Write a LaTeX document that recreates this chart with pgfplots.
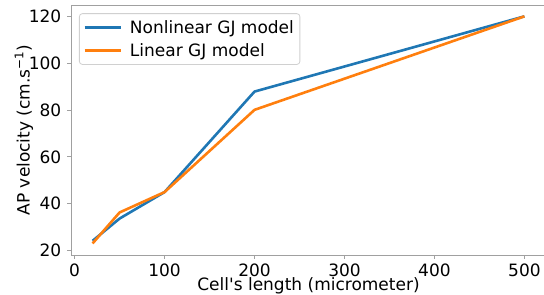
\documentclass[border=0pt]{standalone}
\usepackage{pgfplots}
\pgfplotsset{compat=1.18}
\usepackage{fontspec}
\setmainfont{DejaVu Sans}
\definecolor{tabblue}{HTML}{1F77B4}
\definecolor{taborange}{HTML}{FF7F0E}
\definecolor{spine}{HTML}{A0A0A0}
\definecolor{legedge}{HTML}{D0D0D0}
\begin{document}
\begin{tikzpicture}
\begin{axis}[
  scale only axis,
  width=475bp, height=250bp,
  xmin=-4, xmax=524, ymin=18.15, ymax=124.85,
  xtick={0,100,200,300,400,500},
  ytick={20,40,60,80,100,120},
  axis line style={spine, line width=0.9bp},
  tick style={spine, line width=0.9bp},
  tick align=outside,
  major tick length=3.5bp,
  xtick pos=bottom, ytick pos=left,
  /pgf/number format/assume math mode=true,
  tick label style={font=\fontsize{17bp}{20bp}\selectfont},
  xticklabel style={anchor=base, inner sep=0pt, yshift=-18bp},
  yticklabel style={anchor=east, inner sep=0pt, xshift=-6bp},
  label style={font=\fontsize{17bp}{20bp}\selectfont},
  xlabel={Cell\textquotesingle s length (micrometer)},
  xlabel style={at={(axis description cs:0.5,-0.14)}, anchor=base, inner sep=0pt},
  ylabel={AP velocity (cm.s\textsuperscript{−1})},
  ylabel style={at={(axis description cs:-0.099,0.5)}, anchor=center, inner sep=0pt},
  legend style={at={(axis description cs:0.0168,0.967)}, anchor=north west,
    draw=legedge, line width=0.8bp, rounded corners=3bp, fill=white, fill opacity=0.8, text opacity=1,
    font=\fontsize{17bp}{20bp}\selectfont, inner xsep=4bp, inner ysep=4.5bp,
    row sep=5bp, column sep=6bp},
  legend cell align=left,
  legend image code/.code={\draw[#1, line width=2.6bp] (0bp,0bp) -- (36bp,0bp);},
]
\addplot[tabblue, line width=2.6bp, line join=round] coordinates {(20,24.2) (50,33.7) (100,45) (200,87.9) (500,120)};
\addlegendentry{Nonlinear GJ model}
\addplot[taborange, line width=2.6bp, line join=round] coordinates {(20,23.1) (50,36.3) (100,45) (200,80.1) (500,120)};
\addlegendentry{Linear GJ model}
\end{axis}
\pgfresetboundingbox
\useasboundingbox (-71bp,-40bp) rectangle (473bp,255bp);
\end{tikzpicture}
\end{document}
